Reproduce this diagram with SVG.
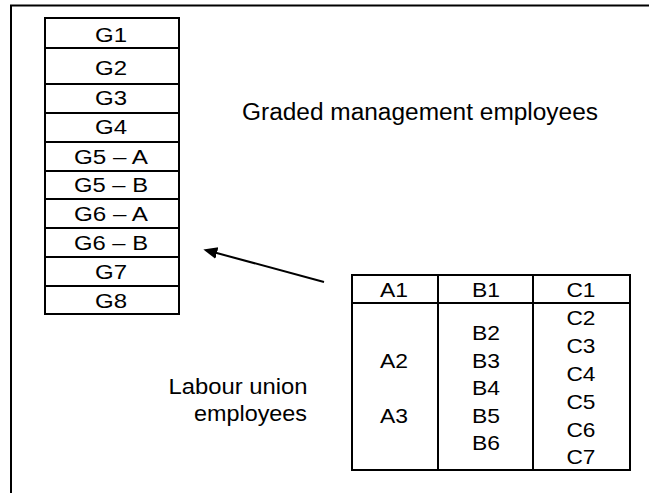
<svg xmlns="http://www.w3.org/2000/svg" width="649" height="493" viewBox="0 0 649 493">
<style>
  text { font-family: "Liberation Sans", Arial, sans-serif; fill: #000; }
  .g { font-size: 20.5px; text-anchor: middle; }
  .t { font-size: 21px; text-anchor: middle; }
  .lbl { font-size: 23px; }
  .lab { font-size: 22px; text-anchor: end; }
  .box { fill: #fff; stroke: #000; stroke-width: 2; }
  .ln { stroke: #000; stroke-width: 2; fill: none; }
</style>
<defs>
  <marker id="ah" markerUnits="userSpaceOnUse" markerWidth="15" markerHeight="13" refX="4" refY="6" orient="auto">
    <path d="M0,0 L14,6 L0,12 z" fill="#000"/>
  </marker>
</defs>
<rect x="0" y="0" width="649" height="493" fill="#fff"/>
<g id="frame">
  <line class="ln" x1="10" y1="5.5" x2="649" y2="5.5"/>
  <line class="ln" x1="11" y1="5" x2="11" y2="493"/>
</g>
<g id="graded-table">
  <rect class="box" x="45" y="18" width="134" height="296"/>
  <line class="ln" x1="45" y1="48" x2="179" y2="48"/>
  <line class="ln" x1="45" y1="84" x2="179" y2="84"/>
  <line class="ln" x1="45" y1="113" x2="179" y2="113"/>
  <line class="ln" x1="45" y1="142" x2="179" y2="142"/>
  <line class="ln" x1="45" y1="171" x2="179" y2="171"/>
  <line class="ln" x1="45" y1="199" x2="179" y2="199"/>
  <line class="ln" x1="45" y1="228" x2="179" y2="228"/>
  <line class="ln" x1="45" y1="257" x2="179" y2="257"/>
  <line class="ln" x1="45" y1="286" x2="179" y2="286"/>
  <text class="g" x="111" y="41.5" textLength="32" lengthAdjust="spacingAndGlyphs">G1</text>
  <text class="g" x="111" y="74.5" textLength="32" lengthAdjust="spacingAndGlyphs">G2</text>
  <text class="g" x="111" y="104.5" textLength="32" lengthAdjust="spacingAndGlyphs">G3</text>
  <text class="g" x="111" y="133.5" textLength="32" lengthAdjust="spacingAndGlyphs">G4</text>
  <text class="g" x="111" y="163.5" textLength="74" lengthAdjust="spacingAndGlyphs">G5 – A</text>
  <text class="g" x="111" y="192" textLength="74" lengthAdjust="spacingAndGlyphs">G5 – B</text>
  <text class="g" x="111" y="221" textLength="74" lengthAdjust="spacingAndGlyphs">G6 – A</text>
  <text class="g" x="111" y="250" textLength="74" lengthAdjust="spacingAndGlyphs">G6 – B</text>
  <text class="g" x="111" y="279" textLength="32" lengthAdjust="spacingAndGlyphs">G7</text>
  <text class="g" x="111" y="308" textLength="32" lengthAdjust="spacingAndGlyphs">G8</text>
</g>
<g id="graded-label">
  <text class="lbl" x="242" y="120" textLength="356" lengthAdjust="spacingAndGlyphs">Graded management employees</text>
</g>
<g id="union-label">
  <text class="lab" x="307.5" y="393.5" textLength="139" lengthAdjust="spacingAndGlyphs">Labour union</text>
  <text class="lab" x="307" y="420.5" textLength="113" lengthAdjust="spacingAndGlyphs">employees</text>
</g>
<g id="union-table">
  <rect class="box" x="352" y="275" width="278" height="195"/>
  <line class="ln" x1="352" y1="303" x2="630" y2="303"/>
  <line class="ln" x1="438" y1="275" x2="438" y2="470"/>
  <line class="ln" x1="533" y1="275" x2="533" y2="470"/>
  <text class="t" x="394" y="297" textLength="28" lengthAdjust="spacingAndGlyphs">A1</text>
  <text class="t" x="486" y="297" textLength="28" lengthAdjust="spacingAndGlyphs">B1</text>
  <text class="t" x="581" y="297" textLength="29" lengthAdjust="spacingAndGlyphs">C1</text>
  <text class="t" x="394" y="368" textLength="28" lengthAdjust="spacingAndGlyphs">A2</text>
  <text class="t" x="394" y="423" textLength="28" lengthAdjust="spacingAndGlyphs">A3</text>
  <text class="t" x="486" y="340" textLength="28" lengthAdjust="spacingAndGlyphs">B2</text>
  <text class="t" x="486" y="367.5" textLength="28" lengthAdjust="spacingAndGlyphs">B3</text>
  <text class="t" x="486" y="395" textLength="28" lengthAdjust="spacingAndGlyphs">B4</text>
  <text class="t" x="486" y="422.5" textLength="28" lengthAdjust="spacingAndGlyphs">B5</text>
  <text class="t" x="486" y="450" textLength="28" lengthAdjust="spacingAndGlyphs">B6</text>
  <text class="t" x="581" y="325" textLength="29" lengthAdjust="spacingAndGlyphs">C2</text>
  <text class="t" x="581" y="353" textLength="29" lengthAdjust="spacingAndGlyphs">C3</text>
  <text class="t" x="581" y="381" textLength="29" lengthAdjust="spacingAndGlyphs">C4</text>
  <text class="t" x="581" y="408.5" textLength="29" lengthAdjust="spacingAndGlyphs">C5</text>
  <text class="t" x="581" y="436.5" textLength="29" lengthAdjust="spacingAndGlyphs">C6</text>
  <text class="t" x="581" y="464" textLength="29" lengthAdjust="spacingAndGlyphs">C7</text>
</g>
<g id="connectors">
  <line class="ln" x1="324" y1="282" x2="213" y2="252" marker-end="url(#ah)"/>
</g>
</svg>
